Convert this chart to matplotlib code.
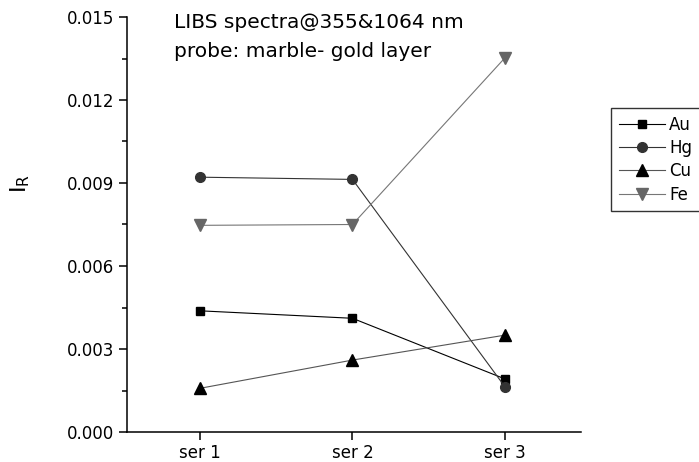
import matplotlib
matplotlib.use("Agg")
import matplotlib.pyplot as plt
from matplotlib.ticker import MultipleLocator

plt.rcParams["font.family"] = ["DejaVu Sans"]
plt.rcParams["mathtext.default"] = "regular"

categories = ["ser 1", "ser 2", "ser 3"]
au = [0.00438, 0.00411, 0.00192]
hg = [0.00921, 0.00913, 0.00164]
cu = [0.00158, 0.00260, 0.00350]
fe = [0.00747, 0.00750, 0.01352]

x = list(range(1, len(categories) + 1))

W, H = 699, 462
fig = plt.figure(figsize=(W / 100, H / 100), dpi=100)
ax = fig.add_axes([127 / W, 1 - 432 / H, (581 - 127) / W, (432 - 17) / H])

ax.plot(x, au, color="black", lw=0.8, marker="s", ms=6, label="Au")
ax.plot(x, hg, color="#333333", lw=0.8, marker="o", ms=7, label="Hg")
ax.plot(x, cu, color="#555555", lw=0.8, marker="^", ms=8, mfc="black", mec="black", label="Cu")
ax.plot(x, fe, color="#767676", lw=0.8, marker="v", ms=8, mfc="#666666", mec="#666666", label="Fe")

ax.set_xlim(0.52, 3.5)
ax.set_ylim(0, 0.015)
ax.set_xticks(x)
ax.set_xticklabels(categories)
ax.yaxis.set_major_locator(MultipleLocator(0.003))
ax.yaxis.set_minor_locator(MultipleLocator(0.0015))
ax.yaxis.set_major_formatter(plt.FormatStrFormatter("%.3f"))
ax.tick_params(axis="both", which="major", labelsize=12, length=6, width=1.1, direction="out", pad=3)
ax.tick_params(axis="y", which="minor", length=3.5, width=1.1, direction="out")
ax.spines["top"].set_visible(False)
ax.spines["right"].set_visible(False)
ax.spines["left"].set_linewidth(1.1)
ax.spines["bottom"].set_linewidth(1.1)

fig.text(20 / W, 1 - 183 / H, "I$_R$", fontsize=16, rotation=90, ha="center", va="center")

fig.text(174 / W, 1 - 28 / H, "LIBS spectra@355&1064 nm", fontsize=14.5, ha="left", va="baseline")
fig.text(174 / W, 1 - 57 / H, "probe: marble- gold layer", fontsize=14.5, ha="left", va="baseline")

leg = fig.legend(loc="upper left", bbox_to_anchor=(611 / W, 1 - 210 / H, 110 / W, 102 / H),
                 mode="expand", fontsize=12,
                 frameon=True, fancybox=False, edgecolor="black", handlelength=2.8,
                 handletextpad=0.25, labelspacing=0.32, borderpad=0.45, borderaxespad=0)
leg.get_frame().set_linewidth(1.0)

fig.savefig("out.png", dpi=100)
